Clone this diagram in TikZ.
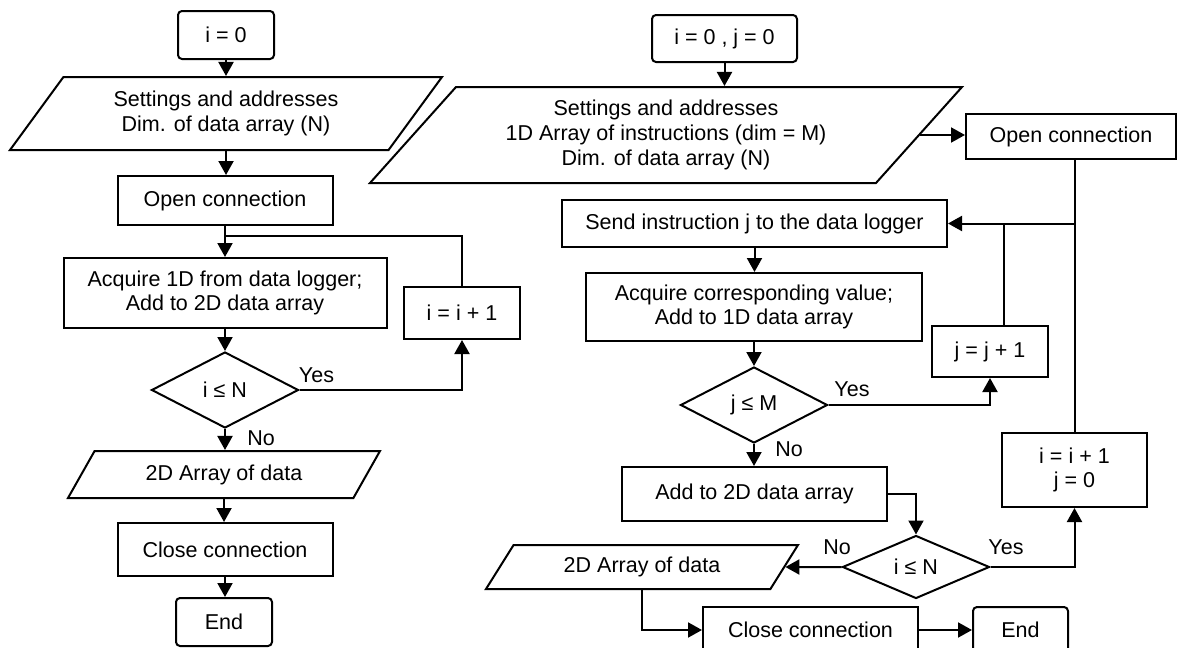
\documentclass[tikz,border=0pt]{standalone}
\usepackage{fontspec}
\setmainfont{Liberation Sans}
\usepackage{tikz}
\usetikzlibrary{arrows.meta}
\usetikzlibrary{shapes.geometric}
\tikzset{>={Triangle[width=7.5pt,length=7pt]}}

\begin{document}
\begin{tikzpicture}[
    x = 0.5pt, y = -0.5pt,
    font = \fontsize{10.75}{12.4}\selectfont,
    line width = 1pt,
    wh/.style 2 args = {minimum width=#1*0.5pt, minimum height=#2*0.5pt},
    term/.style = {draw, rounded corners=2pt, inner sep=0pt},
    proc/.style = {draw, inner sep=0pt, align=center},
    io/.style = {draw, trapezium, trapezium stretches=true,
        trapezium stretches body=true, inner sep=0pt, align=center},
    dec/.style = {draw, diamond, inner sep=0pt}
  ]
  \useasboundingbox (0,0) rectangle (1180,648);

  % left chart
  \node[term, wh={96}{48}] (iA) at (226,35) {i = 0};
  \node[io, trapezium left angle=40, trapezium right angle=140, wh={432}{73}]
    (setA) at (226,113.5) {Settings and addresses\\Dim. of data array (N)};
  \node[proc, wh={215}{49}] (openA) at (225,200.5) {Open connection};
  \node[proc, wh={323}{70}] (acqA) at (225,293)
    {Acquire 1D from data logger;\\Add to 2D data array};
  \node[proc, wh={116}{52}] (incA) at (462,313) {i = i + 1};
  \node[dec, wh={147}{76}] (condA) at (225,390) {i ≤ N};
  \node[io, trapezium left angle=37, trapezium right angle=143, wh={312}{47}]
    (outA) at (224,474.5) {2D Array of data};
  \node[proc, wh={215}{53}] (closeA) at (225,549.5) {Close connection};
  \node[term, wh={96}{48}] (endA) at (224,622) {End};

  \node (yesA) at (316.5,375.5) {Yes};
  \node (noA) at (261,438) {No};

  \foreach \a/\b in {iA/setA, setA/openA, openA/acqA, acqA/condA,
      condA/outA, outA/closeA, closeA/endA}
    \draw[->] (\a.south) -- (\a.south |- \b.north);
  \coordinate (jA) at (225,236);
  \draw (incA.north) |- (jA);
  \draw[->] (condA.east) -| (incA.south);

  % right chart
  \node[term, wh={145}{47}] (iB) at (724.5,38.5) {i = 0 , j = 0};
  \node[io, trapezium left angle=39, trapezium right angle=141, wh={592}{96}]
    (setB) at (666,135) {Settings and addresses\\1D Array of instructions (dim = M)\\Dim. of data array (N)};
  \node[proc, wh={210}{45}] (openB) at (1071,136.5) {Open connection};
  \node[proc, wh={385}{47}] (sendB) at (754.5,223.5) {Send instruction j to the data logger};
  \node[proc, wh={336}{68}] (acqB) at (754,307)
    {Acquire corresponding value;\\Add to 1D data array};
  \node[proc, wh={116}{51}] (incjB) at (990,351.5) {j = j + 1};
  \node[dec, wh={147}{76}] (condjB) at (754,405) {j ≤ M};
  \node[proc, wh={265}{54}] (addB) at (754.5,494) {Add to 2D data array};
  \node[proc, wh={145}{74}] (inciB) at (1074.5,470) {i = i + 1\\j = 0};
  \node[dec, wh={147}{63}] (condiB) at (916,567) {i ≤ N};
  \node[io, trapezium left angle=36, trapezium right angle=144, wh={312}{44}]
    (outB) at (642,567) {2D Array of data};
  \node[proc, wh={215}{46}] (closeB) at (810.5,630) {Close connection};
  \node[term, wh={95}{46}] (endB) at (1020.5,630) {End};

  \node (yesjB) at (852,389) {Yes};
  \node (nojB) at (789,449) {No};
  \node (noiB) at (837,547.5) {No};
  \node (yesiB) at (1006,547.5) {Yes};

  \foreach \a/\b in {iB/setB, sendB/acqB, acqB/condjB, condjB/addB}
    \draw[->] (\a.south) -- (\a.south |- \b.north);
  \draw[->] (setB.east) -- (setB.east -| openB.west);
  \draw (inciB.north) -- (inciB.north |- openB.south);
  \draw[->] (inciB.north |- sendB.east) -- (sendB.east);
  \draw ([xshift=7pt]incjB.north) -- ([xshift=7pt]incjB.north |- sendB.east);
  \draw[->] (condjB.east) -| (incjB.south);
  \draw[->] (addB.east) -| (condiB.north);
  \draw[->] (condiB.east) -| (inciB.south);
  \draw[->] (condiB.west) -- (outB.east);
  \draw[->] (outB.south) |- (closeB.west);
  \draw[->] (closeB.east) -- (endB.west);
\end{tikzpicture}
\end{document}
